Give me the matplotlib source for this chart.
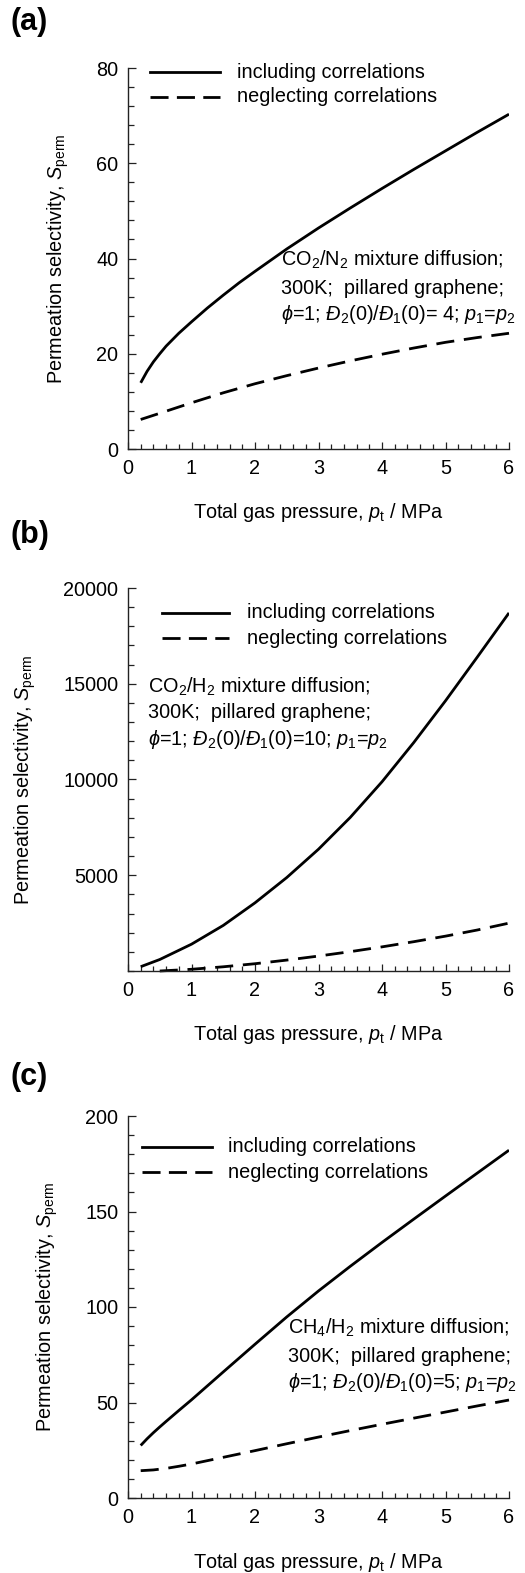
import matplotlib
matplotlib.use("Agg")
import matplotlib.pyplot as plt
from matplotlib.ticker import MultipleLocator

plt.rcParams['font.family'] = ['Liberation Sans', 'DejaVu Sans']
plt.rcParams['mathtext.fontset'] = 'custom'
plt.rcParams['mathtext.rm'] = 'Liberation Sans'
plt.rcParams['mathtext.it'] = 'Liberation Sans:italic'
plt.rcParams['mathtext.bf'] = 'Liberation Sans:bold'

# ---- (a) CO2/N2 ----
p_a_incl = [0.2, 0.3, 0.4, 0.5, 0.6, 0.8, 1.0, 1.25, 1.5, 1.75, 2.0, 2.5, 3.0, 3.5, 4.0, 4.5, 5.0, 5.5, 6.0]
s_a_incl = [13.9, 16.3, 18.3, 20.0, 21.6, 24.3, 26.7, 29.6, 32.3, 34.9, 37.3, 42.0, 46.4, 50.6, 54.7, 58.7, 62.6, 66.5, 70.3]
p_a_negl = [0.2, 0.5, 1.0, 1.5, 2.0, 2.5, 3.0, 3.5, 4.0, 4.5, 5.0, 5.5, 6.0]
s_a_negl = [6.2, 7.5, 9.7, 11.8, 13.7, 15.4, 17.0, 18.5, 19.9, 21.2, 22.4, 23.4, 24.3]

# ---- (b) CO2/H2 ----
p_b_incl = [0.2, 0.5, 1.0, 1.5, 2.0, 2.5, 3.0, 3.5, 4.0, 4.5, 5.0, 5.5, 6.0]
s_b_incl = [225, 600, 1400, 2380, 3560, 4880, 6360, 8020, 9880, 11930, 14110, 16390, 18700]
p_b_negl = [0.5, 1.0, 1.5, 2.0, 2.5, 3.0, 3.5, 4.0, 4.5, 5.0, 5.5, 6.0]
s_b_negl = [0, 90, 220, 380, 570, 780, 1010, 1260, 1530, 1820, 2140, 2500]

# ---- (c) CH4/H2 ----
p_c_incl = [0.2, 0.3, 0.4, 0.5, 0.6, 0.8, 1.0, 1.5, 2.0, 2.5, 3.0, 3.5, 4.0, 4.5, 5.0, 5.5, 6.0]
s_c_incl = [27.5, 31.0, 34.2, 37.2, 40.1, 45.8, 51.4, 66.0, 80.5, 94.8, 108.4, 121.3, 133.8, 146.0, 158.1, 170.1, 182.1]
p_c_negl = [0.2, 0.4, 0.6, 0.8, 1.0, 1.5, 2.0, 2.5, 3.0, 3.5, 4.0, 4.5, 5.0, 5.5, 6.0]
s_c_negl = [14.3, 14.7, 15.5, 16.6, 17.8, 21.3, 24.8, 28.4, 31.9, 35.3, 38.6, 41.8, 45.0, 48.2, 51.3]

legend_labels = ["including correlations", "neglecting correlations"]
xlabel = r"Total gas pressure, $p_{\mathrm{t}}$ / MPa"
ylabel = r"Permeation selectivity, $S_{\mathrm{perm}}$"

W, H = 525, 1573
FS = 14.3
fig = plt.figure(figsize=(W / 100, H / 100), dpi=100)


def px_axes(left, top, right, bottom):
    return fig.add_axes([left / W, 1 - bottom / H, (right - left) / W, (bottom - top) / H])


panels = [
    dict(tag="(a)", top=68, bottom=449, ymax=80, ymin=4, yticks=[0, 20, 40, 60, 80],
         inc=(p_a_incl, s_a_incl), neg=(p_a_negl, s_a_negl),
         leg_x=(150, 220), leg_tx=237, leg_y=(72, 97),
         note=[r"CO$_2$/N$_2$ mixture diffusion;", "300K;  pillared graphene;",
               r"$\phi$=1; $Đ_2$(0)/$Đ_1$(0)= 4; $p_1$=$p_2$"],
         note_x=281, note_y=(260, 288, 315), tag_y=22, xl_y=513, yl_x=58),
    dict(tag="(b)", top=588, bottom=971, ymax=20000, ymin=1000,
         yticks=[5000, 10000, 15000, 20000],
         inc=(p_b_incl, s_b_incl), neg=(p_b_negl, s_b_negl),
         leg_x=(162, 229), leg_tx=247, leg_y=(613, 638),
         note=[r"CO$_2$/H$_2$ mixture diffusion;", "300K;  pillared graphene;",
               r"$\phi$=1; $Đ_2$(0)/$Đ_1$(0)=10; $p_1$=$p_2$"],
         note_x=148, note_y=(687, 713, 740), tag_y=535, xl_y=1035, yl_x=25),
    dict(tag="(c)", top=1116, bottom=1498, ymax=200, ymin=10, yticks=[0, 50, 100, 150, 200],
         inc=(p_c_incl, s_c_incl), neg=(p_c_negl, s_c_negl),
         leg_x=(142, 212), leg_tx=228, leg_y=(1147, 1172),
         note=[r"CH$_4$/H$_2$ mixture diffusion;", "300K;  pillared graphene;",
               r"$\phi$=1; $Đ_2$(0)/$Đ_1$(0)=5; $p_1$=$p_2$"],
         note_x=288, note_y=(1328, 1357, 1383), tag_y=1077, xl_y=1563, yl_x=47),
]

L, R = 128, 509
for pn in panels:
    ax = px_axes(L, pn["top"], R, pn["bottom"])
    ax.set_xlim(0, 6)
    ax.set_ylim(0, pn["ymax"])
    for side in ("top", "right"):
        ax.spines[side].set_visible(False)
    for side in ("left", "bottom"):
        ax.spines[side].set_linewidth(1.0)
        ax.spines[side].set_color("#222222")

    xi, yi = pn["inc"]
    xn, yn = pn["neg"]
    ax.plot(xi, yi, color="black", lw=2.0, solid_capstyle="butt", solid_joinstyle="round")
    ax.plot(xn, yn, color="black", lw=2.0, dashes=(6.5, 3.5), clip_on=False)

    ax.set_xticks(range(0, 7))
    ax.xaxis.set_minor_locator(MultipleLocator(0.2))
    ax.set_yticks(pn["yticks"])
    ax.yaxis.set_minor_locator(MultipleLocator(pn["ymin"]))
    ax.tick_params(axis="both", which="both", direction="in", color="#222222", width=0.9,
                   labelsize=FS)
    ax.tick_params(axis="x", which="major", length=5, pad=7)
    ax.tick_params(axis="x", which="minor", length=3.5)
    ax.tick_params(axis="y", which="major", length=6, pad=7)
    ax.tick_params(axis="y", which="minor", length=4.5)

    # legend drawn in figure pixel coordinates
    ly1, ly2 = pn["leg_y"]
    x0, x1 = pn["leg_x"]
    fig.add_artist(plt.Line2D([x0 / W, x1 / W], [1 - ly1 / H] * 2, color="black", lw=2.0))
    fig.add_artist(plt.Line2D([x0 / W, x1 / W], [1 - ly2 / H] * 2, color="black", lw=2.0,
                              dashes=(6.5, 3.0)))
    fig.text(pn["leg_tx"] / W, 1 - ly1 / H, legend_labels[0], fontsize=FS, va="center")
    fig.text(pn["leg_tx"] / W, 1 - ly2 / H, legend_labels[1], fontsize=FS, va="center")

    for line, yy in zip(pn["note"], pn["note_y"]):
        fig.text(pn["note_x"] / W, 1 - yy / H, line, fontsize=FS, va="center")

    fig.text(10 / W, 1 - pn["tag_y"] / H, pn["tag"], fontsize=22, fontweight="bold", va="center")
    fig.text((L + R) / 2 / W, 1 - pn["xl_y"] / H, xlabel, fontsize=FS, ha="center", va="center")
    fig.text(pn["yl_x"] / W, 1 - (pn["top"] + pn["bottom"]) / 2 / H, ylabel, fontsize=FS,
             rotation=90, ha="center", va="center")

fig.savefig("out.png", dpi=100)
